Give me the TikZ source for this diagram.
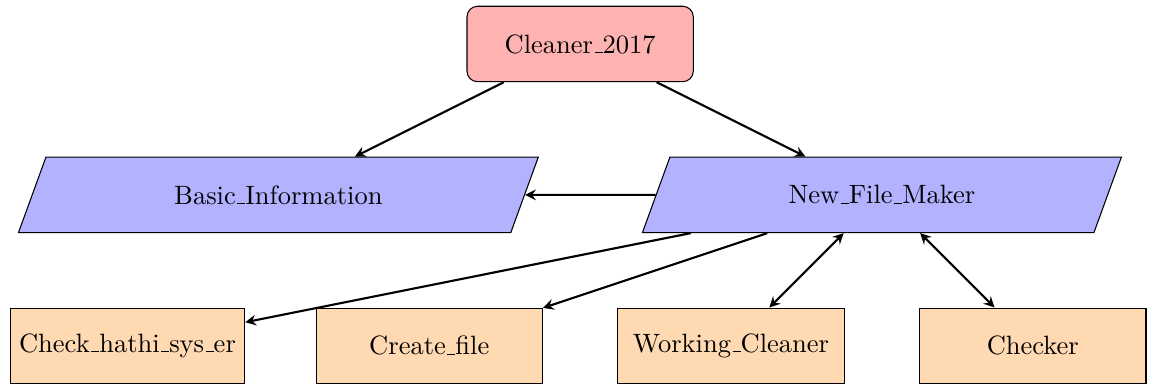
\documentclass[tikz,border=0pt]{standalone}
\usetikzlibrary{shapes.geometric}
\makeatletter
\renewcommand{\_}{\leavevmode\kern.06em\vbox{\hrule\@width.3em}}
\makeatother
\tikzset{
startstop/.style={rectangle, rounded corners, minimum width=3cm, minimum height=1cm, text centered, draw=black, fill=red!30},
io/.style={trapezium, trapezium left angle=70, trapezium right angle=110, minimum width=3cm, minimum height=1cm, text centered, draw=black, fill=blue!30},
process/.style={rectangle, minimum width=3cm, minimum height=1cm, text centered, draw=black, fill=orange!30},
arrow/.style={thick,->,>=stealth}
}
\begin{document}
\begin{tikzpicture}
\useasboundingbox (-7.69,-4.517) rectangle (7.58,0.583);
\node[startstop] (cleaner) at (0,0) {Cleaner\_2017};
\node[io] (basic) at (-4,-2) {Basic\_Information};
\node[io] (newfile) at (4,-2) {New\_File\_Maker};
\foreach \x/\name/\lab in {-6/check/{Check\_hathi\_sys\_er},-2/create/{Create\_file},2/working/{Working\_Cleaner},6/checker/{Checker}}
{
\node[process] (\name) at (\x,-4) {\lab};
}

\draw[arrow] (cleaner) -- (basic);
\draw[arrow] (cleaner) -- (newfile);
\draw[arrow] (newfile) -- (basic);
\draw[arrow] (newfile) -- (check);
\draw[arrow] (newfile) -- (create);
\draw[arrow,<->] (newfile) -- (working);
\draw[arrow,<->] (newfile) -- (checker);
\end{tikzpicture}
\end{document}
